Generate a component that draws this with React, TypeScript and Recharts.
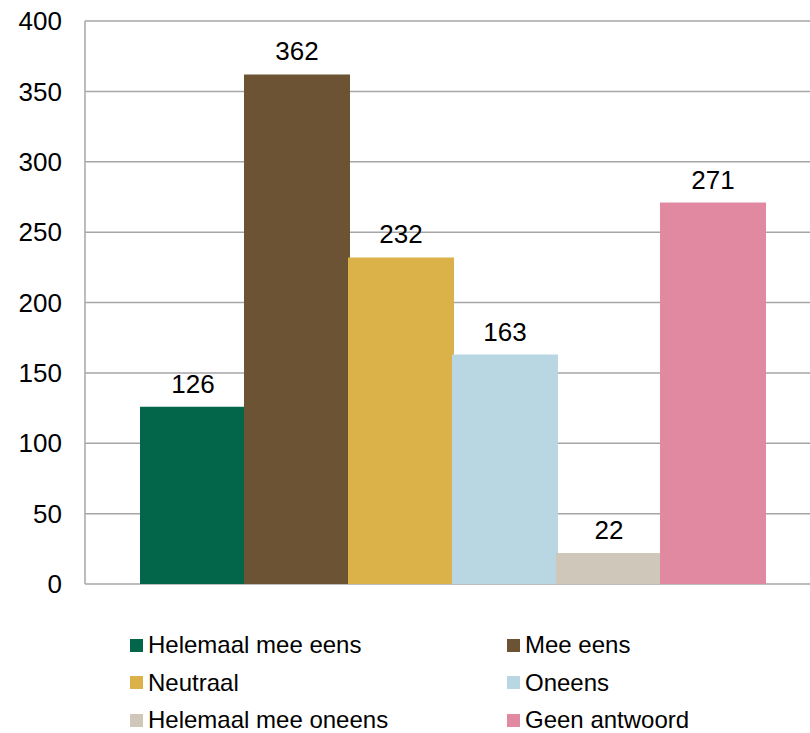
import { BarChart, Bar, XAxis, YAxis, CartesianGrid, LabelList } from 'recharts';

const categories = ['Antwoorden'];
const seriesNames = [
  'Helemaal mee eens',
  'Mee eens',
  'Neutraal',
  'Oneens',
  'Helemaal mee oneens',
  'Geen antwoord',
];
const seriesValues = [126, 362, 232, 163, 22, 271];
const yTicks = [0, 50, 100, 150, 200, 250, 300, 350, 400];

const COLORS = ['#036549', '#6b5334', '#dbb149', '#b9d7e2', '#d0c7bb', '#e289a2'];

const FONT = '"Liberation Sans", Arial, sans-serif';

const data = categories.map((name) => {
  const row: Record<string, string | number> = { name };
  seriesNames.forEach((s, i) => {
    row[`s${i}`] = seriesValues[i];
  });
  return row;
});

// legend is read row by row: two columns
const legendRows = [
  [0, 1],
  [2, 3],
  [4, 5],
];

export default function App() {
  return (
    <div style={{ position: 'absolute', left: 0, top: 0, width: 810, height: 733, background: '#fff', fontFamily: FONT }}>
      <BarChart
        width={810}
        height={733}
        data={data}
        margin={{ top: 21, right: 0, left: 0, bottom: 149 }}
        barGap={-2}
        barCategoryGap={44}
      >
        <CartesianGrid horizontal vertical={false} stroke="#a6a6a6" strokeWidth={1.5} />
        <XAxis dataKey="name" hide padding={{ left: 11, right: 0 }} />
        <YAxis
          width={85}
          domain={[0, 400]}
          ticks={yTicks}
          interval={0}
          tickLine={false}
          tickSize={0}
          tickMargin={23}
          axisLine={{ stroke: '#a6a6a6', strokeWidth: 1.5 }}
          tick={{ fill: '#000', fontSize: 26, fontFamily: FONT }}
        />
        {seriesNames.map((s, i) => (
          <Bar key={s} dataKey={`s${i}`} name={s} fill={COLORS[i]} isAnimationActive={false}>
            <LabelList
              dataKey={`s${i}`}
              position="top"
              offset={14}
              fill="#000"
              fontSize={26}
              fontFamily={FONT}
            />
          </Bar>
        ))}
      </BarChart>
      {legendRows.map((row, r) =>
        row.map((idx, c) => (
          <div
            key={idx}
            style={{
              position: 'absolute',
              left: c === 0 ? 130 : 507,
              top: 645 + r * 37.5 - 15,
              height: 30,
              display: 'flex',
              alignItems: 'center',
              fontSize: 24,
              color: '#000',
              whiteSpace: 'nowrap',
            }}
          >
            <span style={{ display: 'inline-block', width: 13, height: 13, background: COLORS[idx], marginRight: 5 }} />
            {seriesNames[idx]}
          </div>
        ))
      )}
    </div>
  );
}
